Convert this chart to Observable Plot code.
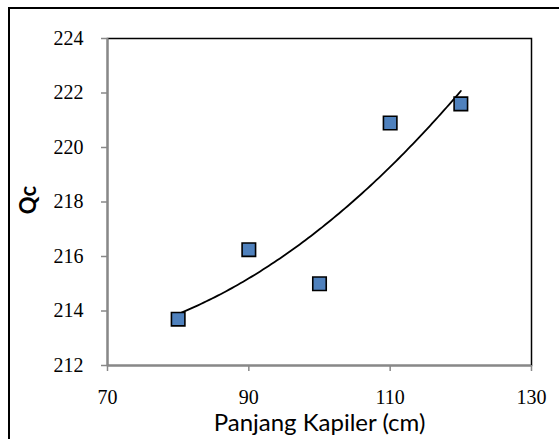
<!DOCTYPE html>
<html><head><meta charset="utf-8">
<script src="https://cdn.jsdelivr.net/npm/d3@7"></script>
<script src="https://cdn.jsdelivr.net/npm/@observablehq/plot@0.6"></script>
<style>
body{margin:0;background:#fff;}
#wrap{position:relative;width:559px;height:439px;overflow:hidden;}
#border{position:absolute;left:8px;top:7px;width:600px;height:500px;border:2px solid #000;box-sizing:border-box;}
#chart{position:absolute;left:0;top:0;}
#chart svg g.serif-ticks text{font-family:"Liberation Serif","Times New Roman","DejaVu Serif",serif !important;}
</style></head>
<body><div id="wrap"><div id="border"></div><div id="chart"></div></div>
<script>
const xValues = [80, 90, 100, 110, 120];
const qcValues = [213.7, 216.25, 215.0, 220.9, 221.6];
const xTicks = [70, 90, 110, 130];
const yTicks = [212, 214, 216, 218, 220, 222, 224];

const data = xValues.map((x, i) => ({x, y: qcValues[i]}));

// quadratic least-squares trendline computed from the data
function polyFit2(xs, ys) {
  let S = [0,0,0,0,0], T = [0,0,0];
  xs.forEach((x, i) => { for (let k = 0; k < 5; k++) S[k] += x ** k; for (let k = 0; k < 3; k++) T[k] += ys[i] * x ** k; });
  const A = [[S[0],S[1],S[2],T[0]],[S[1],S[2],S[3],T[1]],[S[2],S[3],S[4],T[2]]];
  for (let i = 0; i < 3; i++) { for (let j = i+1; j < 3; j++) { const f = A[j][i]/A[i][i]; for (let k = i; k < 4; k++) A[j][k] -= f*A[i][k]; } }
  const c = [0,0,0];
  for (let i = 2; i >= 0; i--) { let s = A[i][3]; for (let k = i+1; k < 3; k++) s -= A[i][k]*c[k]; c[i] = s/A[i][i]; }
  return c;
}
const coef = polyFit2(xValues, qcValues);
const xmin = d3.min(xValues), xmax = d3.max(xValues);
const trend = d3.range(0, 101).map(i => { const x = xmin + (xmax - xmin) * i / 100; return {x, y: coef[0] + coef[1]*x + coef[2]*x*x}; });

const serif = "Liberation Serif";
const sans = "Lato";

const chart = Plot.plot({
  width: 559, height: 439,
  marginLeft: 107, marginRight: 28, marginTop: 38, marginBottom: 74,
  style: {background: "transparent", overflow: "visible"},
  x: {domain: [70, 130]},
  y: {domain: [212, 224]},
  marks: [
    Plot.frame({stroke: "#000", strokeWidth: 1.5}),
    Plot.ruleX([70], {stroke: "#888", strokeWidth: 2}),
    Plot.ruleY([212], {stroke: "#888", strokeWidth: 2}),
    Plot.axisX({ticks: xTicks, tickSize: 6, tickPadding: 18, stroke: "#888", strokeWidth: 1.5, label: null, fontSize: 20, fontFamily: serif, fill: "#000"}),
    Plot.axisY({ticks: yTicks, tickSize: 6, tickPadding: 18, stroke: "#888", strokeWidth: 1.5, label: null, fontSize: 20, fontFamily: serif, fill: "#000"}),
    Plot.line(trend, {x: "x", y: "y", stroke: "#000", strokeWidth: 1.8}),
    Plot.dot(data, {x: "x", y: "y", symbol: "square", r: 7.6, fill: "#4f81bd", stroke: "#000", strokeWidth: 1.6}),
    Plot.text(["Panjang Kapiler (cm)"], {frameAnchor: "bottom", lineAnchor: "middle", textAnchor: "middle", dx: 0, dy: 58, fontFamily: sans, fontSize: 24, fill: "#000"}),
    Plot.text(["Qc"], {frameAnchor: "left", lineAnchor: "middle", textAnchor: "middle", dx: -79, dy: -2, rotate: -90, fontFamily: sans, fontSize: 22, fontWeight: "bold", fill: "#000"})
  ]
});
chart.querySelectorAll('g[aria-label$="tick label"]').forEach(g => g.classList.add("serif-ticks"));
document.getElementById("chart").appendChild(chart);
</script></body></html>
